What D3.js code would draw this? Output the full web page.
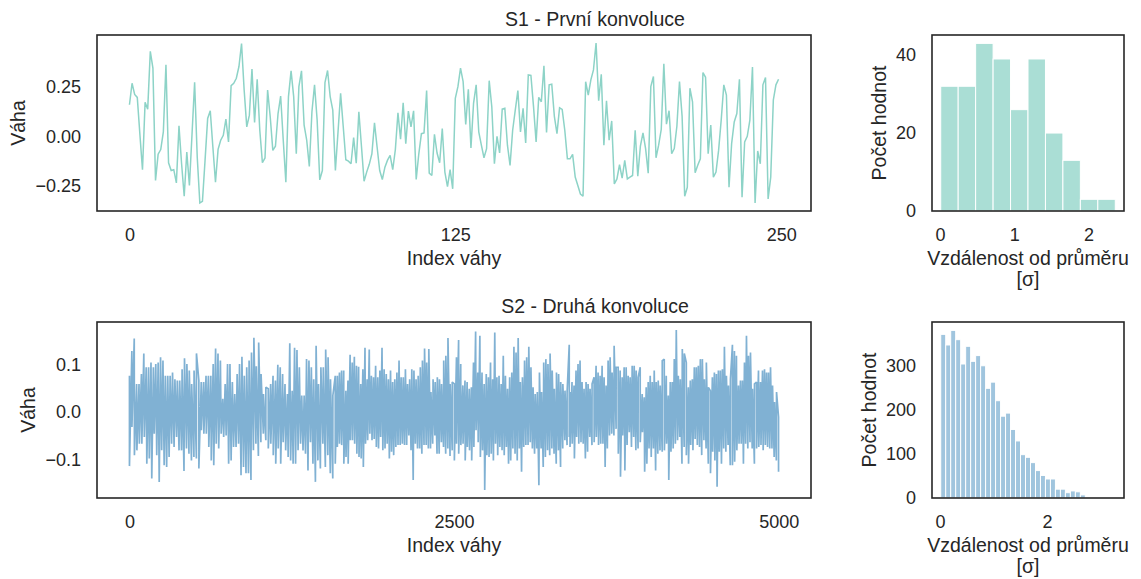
<!DOCTYPE html>
<html lang="cs">
<head>
<meta charset="UTF-8" />
<title>Konvoluce</title>
<script src="https://cdn.jsdelivr.net/npm/d3@7"></script>
<style>
  body { margin: 0; background: #fff; }
  svg { display: block; }
  text { font-family: "Liberation Sans", Arial, sans-serif; fill: #262626; }
</style>
</head>
<body>
<div id="chart"></div>
<script>
// S1 - weights of the first convolution (250 values)
var s1 = [0.158,0.266,0.21,0.195,0.01,-0.168,0.17,0.136,0.426,0.342,
  -0.222,-0.09,-0.067,0.022,0.359,-0.133,-0.172,-0.168,-0.234,0.052,
  -0.138,-0.301,-0.079,-0.247,0.01,0.271,-0.104,-0.335,-0.327,-0.121,
  0.089,0.128,-0.054,-0.231,-0.066,-0.02,0.005,0.086,-0.029,0.254,
  0.266,0.291,0.35,0.465,0.232,0.047,0.106,0.337,0.069,0.286,
  0.03,-0.133,-0.109,0.232,0.098,-0.071,-0.05,0.114,0.202,-0.02,
  -0.231,0.199,0.328,0.199,-0.088,0.249,0.328,0.056,-0.02,-0.152,
  0.123,0.258,0.081,-0.219,-0.172,0.269,0.33,0.199,0.131,-0.172,
  0.02,0.215,0.05,-0.118,-0.125,-0.138,-0.007,-0.135,0.123,-0.05,
  -0.226,-0.18,-0.141,-0.088,0.067,-0.054,-0.172,-0.217,-0.155,-0.12,
  -0.096,-0.168,-0.067,0.118,-0.015,0.168,-0.037,0.126,0.047,0.128,
  -0.217,-0.088,0.013,0.017,0.229,-0.185,-0.197,0.01,-0.084,-0.133,
  0.039,-0.18,-0.253,-0.168,-0.264,0.19,0.249,0.342,0.274,0.059,
  0.236,-0.059,0.165,0.258,0.022,-0.045,-0.108,-0.062,0.279,0.148,
  -0.138,0.0,-0.084,0.136,0.14,-0.045,-0.146,0.03,0.131,0.229,
  0.022,0.14,-0.034,0.308,0.305,0.15,-0.029,0.195,0.173,0.354,
  0.019,0.258,0.261,0.1,0.013,0.143,0.135,0.03,-0.113,-0.113,
  -0.091,-0.205,-0.247,-0.29,-0.301,0.274,0.207,0.283,0.333,0.468,
  0.178,0.311,-0.045,0.178,-0.02,0.077,-0.239,-0.214,-0.143,-0.21,
  -0.121,-0.214,-0.205,-0.197,0.03,-0.2,-0.05,0.017,-0.062,-0.185,
  0.249,0.3,-0.108,-0.045,0.034,0.364,0.061,0.128,-0.088,-0.062,
  0.05,0.274,0.101,-0.301,-0.256,0.241,0.173,-0.183,-0.146,-0.113,
  0.32,0.296,-0.088,0.056,-0.205,-0.18,-0.071,0.081,0.258,0.207,
  -0.256,-0.037,0.072,0.114,0.286,-0.306,-0.029,0.0,0.081,0.347,
  -0.335,-0.074,-0.138,0.258,0.295,-0.315,-0.205,0.182,0.258,0.286];

// S2 - 5000 weights, too dense to read one by one: local peaks (hi) and
// troughs (lo), in three stretches of the index axis
var s2Spans = [[0, 1585], [1601, 3387], [3393, 4999]];
var s2HiA = [0.076,0.128,0.154,0.059,0.059,0.080,0.123,0.094,0.094,0.104,0.094,0.101,0.104,0.115,0.108,
  0.076,0.076,0.076,0.083,0.069,0.066,0.066,0.090,0.113,0.101,0.087,0.059,0.087,0.123,0.066,0.063,
  0.063,0.076,0.076,0.076,0.101,0.133,0.123,0.108,0.028,0.059,0.101,0.101,0.063,0.038,0.080,0.101,
  0.116,0.076,0.094,0.108,0.125,0.156,0.096,0.146,0.080,0.038,0.052,0.049,0.059,0.076,0.066,0.099,
  0.094,0.080,0.059,0.038,0.144,0.045,0.135,0.130,0.094,0.035,0.035,0.111,0.108,0.094,0.069,0.139,
  0.059,0.094,0.094,0.131,0.115,0.069,0.035,0.076];
var s2LoA = [-0.113,-0.031,-0.090,-0.080,-0.066,-0.066,-0.052,-0.108,-0.097,-0.139,-0.045,-0.090,-0.146,
  -0.080,-0.111,-0.115,-0.094,-0.066,-0.073,-0.052,-0.080,-0.080,-0.123,-0.076,-0.087,-0.101,-0.094,
  -0.097,-0.118,-0.038,-0.045,-0.045,-0.073,-0.101,-0.111,-0.066,-0.076,-0.045,-0.052,-0.049,-0.108,
  -0.101,-0.073,-0.073,-0.066,-0.132,-0.115,-0.128,-0.128,-0.142,-0.080,-0.066,-0.092,-0.063,-0.045,
  -0.059,-0.076,-0.066,-0.090,-0.108,-0.076,-0.108,-0.063,-0.080,-0.094,-0.101,-0.108,-0.108,-0.080,
  -0.066,-0.080,-0.087,-0.122,-0.063,-0.108,-0.146,-0.101,-0.118,-0.066,-0.115,-0.090,-0.128,-0.139,-0.108];
var s2HiB = [0.076,0.083,0.087,0.087,0.045,0.066,0.120,0.104,0.116,0.097,0.095,0.059,0.090,0.135,0.069,
  0.131,0.076,0.073,0.097,0.073,0.087,0.135,0.090,0.080,0.069,0.087,0.063,0.069,0.083,0.108,0.073,
  0.073,0.090,0.059,0.069,0.090,0.087,0.069,0.076,0.094,0.108,0.133,0.104,0.132,0.042,0.069,0.063,
  0.073,0.069,0.059,0.108,0.118,0.155,0.059,0.063,0.059,0.115,0.151,0.101,0.056,0.066,0.063,0.049,
  0.052,0.104,0.169,0.083,0.160,0.083,0.059,0.080,0.073,0.104,0.069,0.167,0.073,0.076,0.059,0.118,
  0.076,0.049,0.073,0.083,0.137,0.125,0.155,0.063,0.073,0.108,0.115,0.137,0.094,0.052,0.038,0.042,
  0.083,0.042,0.104,0.111,0.101,0.123,0.087,0.049,0.083,0.080,0.063,0.059,0.045,0.042,0.141];
var s2LoB = [-0.073,-0.066,-0.069,-0.108,-0.094,-0.108,-0.059,-0.059,-0.066,-0.087,-0.094,-0.097,-0.115,
  -0.066,-0.059,-0.045,-0.059,-0.056,-0.073,-0.076,-0.052,-0.080,-0.076,-0.066,-0.097,-0.083,-0.090,
  -0.073,-0.069,-0.069,-0.066,-0.069,-0.069,-0.049,-0.080,-0.142,-0.066,-0.076,-0.076,-0.087,-0.069,
  -0.069,-0.076,-0.076,-0.066,-0.049,-0.087,-0.087,-0.063,-0.073,-0.087,-0.076,-0.092,-0.080,-0.101,
  -0.066,-0.087,-0.069,-0.066,-0.101,-0.073,-0.080,-0.101,-0.073,-0.038,-0.063,-0.094,-0.080,-0.163,
  -0.090,-0.094,-0.087,-0.101,-0.066,-0.090,-0.073,-0.080,-0.090,-0.073,-0.108,-0.101,-0.076,-0.087,
  -0.101,-0.076,-0.125,-0.073,-0.069,-0.069,-0.063,-0.076,-0.087,-0.076,-0.153,-0.076,-0.115,-0.094,
  -0.080,-0.090,-0.076,-0.087,-0.108,-0.080,-0.115,-0.076,-0.059,-0.069,-0.052];
var s2HiC = [0.042,0.063,0.056,0.087,0.101,0.108,0.063,0.049,0.063,0.059,0.049,0.059,0.073,0.097,0.083,
  0.076,0.097,0.073,0.056,0.108,0.115,0.083,0.139,0.094,0.094,0.087,0.073,0.094,0.094,0.076,0.073,
  0.097,0.097,0.087,0.073,0.094,0.038,0.031,0.052,0.063,0.076,0.063,0.087,0.063,0.066,0.056,0.108,
  0.111,0.076,0.035,0.063,0.063,0.111,0.172,0.076,0.069,0.132,0.123,0.104,0.052,0.066,0.069,0.094,
  0.094,0.097,0.111,0.111,0.069,0.104,0.052,0.045,0.073,0.083,0.080,0.087,0.087,0.090,0.137,0.076,
  0.056,0.069,0.141,0.128,0.118,0.056,0.066,0.066,0.104,0.160,0.118,0.125,0.049,0.059,0.063,0.087,
  0.063,0.087,0.090,0.083,0.083,0.094,0.056,0.021,0.042,-0.010];
var s2LoC = [-0.073,-0.066,-0.097,-0.052,-0.066,-0.063,-0.066,-0.097,-0.083,-0.052,-0.069,-0.063,-0.052,
  -0.069,-0.066,-0.066,-0.115,-0.076,-0.049,-0.045,-0.049,-0.035,-0.087,-0.135,-0.049,-0.122,-0.069,
  -0.042,-0.073,-0.052,-0.080,-0.076,-0.063,-0.042,-0.125,-0.108,-0.076,-0.094,-0.076,-0.122,-0.087,
  -0.080,-0.083,-0.080,-0.066,-0.142,-0.083,-0.076,-0.066,-0.059,-0.052,-0.108,-0.073,-0.090,-0.108,
  -0.069,-0.080,-0.056,-0.069,-0.073,-0.090,-0.059,-0.076,-0.108,-0.128,-0.083,-0.101,-0.156,-0.083,
  -0.108,-0.076,-0.083,-0.069,-0.111,-0.111,-0.104,-0.080,-0.066,-0.066,-0.108,-0.066,-0.076,-0.063,
  -0.076,-0.108,-0.076,-0.073,-0.069,-0.080,-0.069,-0.073,-0.076,-0.076,-0.094,-0.101,-0.125];

// histograms of |w - mean| / sigma
var h1Counts = [32, 32, 43, 39, 26, 39, 20, 13, 3, 3];
var h1Range = [0.01, 2.36];
var h2Counts = [370, 346, 379, 358, 303, 343, 309, 322, 299, 248, 262, 220, 185, 192, 155, 129, 98, 92,
  80, 62, 51, 43, 43, 20, 20, 12, 16, 14, 7, 2, 1, 1, 1, 0, 1];
var h2Range = [0.013, 3.28];

var s1Ticks = [0, 125, 250];
var s2Ticks = [0, 2500, 5000];
var h1XTicks = [0, 1, 2];
var h1YTicks = [0, 20, 40];
var h2XTicks = [0, 2];
var h2YTicks = [0, 100, 200, 300];

var width = 1141;
var height = 579;
var tickFont = 18;
var labelFont = 19.5;
var ink = '#262626';

var svg = d3.select('#chart').append('svg')
  .attr('width', width).attr('height', height);

// margin like matplotlib's default 5 %
function pad(lo, hi) {
  var m = (hi - lo) * 0.05;
  return [lo - m, hi + m];
}

function frame(box) {
  svg.append('rect')
    .attr('x', box.x0).attr('y', box.y0)
    .attr('width', box.x1 - box.x0).attr('height', box.y1 - box.y0)
    .attr('fill', 'none').attr('stroke', ink).attr('stroke-width', 1.6);
}

function axes(box, x, y, xTicks, yTicks, yFmt, xLabel, yLabel, xLabel2) {
  var gx = svg.append('g').attr('transform', 'translate(0,' + box.y1 + ')')
    .call(d3.axisBottom(x).tickValues(xTicks).tickSize(0).tickPadding(17).tickFormat(d3.format('d')));
  var gy = svg.append('g').attr('transform', 'translate(' + box.x0 + ',0)')
    .call(d3.axisLeft(y).tickValues(yTicks).tickSize(0).tickPadding(16).tickFormat(d3.format(yFmt)));
  [gx, gy].forEach(function (g) {
    g.select('.domain').remove();
    g.selectAll('text').attr('font-size', tickFont).attr('fill', ink)
      .style('font-family', '"Liberation Sans", Arial, sans-serif');
  });
  // y label sits left of the widest tick label
  var wMax = 0;
  gy.selectAll('text').each(function () { wMax = Math.max(wMax, this.getComputedTextLength()); });
  var lx = box.x0 - 16 - wMax - 10;
  svg.append('text')
    .attr('transform', 'translate(' + lx + ',' + (box.y0 + box.y1) / 2 + ') rotate(-90)')
    .attr('text-anchor', 'middle').attr('font-size', labelFont)
    .text(yLabel);
  var cx = (box.x0 + box.x1) / 2;
  svg.append('text').attr('x', cx).attr('y', box.y1 + 54)
    .attr('text-anchor', 'middle').attr('font-size', labelFont).text(xLabel);
  if (xLabel2) {
    svg.append('text').attr('x', cx).attr('y', box.y1 + 75)
      .attr('text-anchor', 'middle').attr('font-size', labelFont).text(xLabel2);
  }
}

function linePanel(box, pts, n, ticks, yTicks, yFmt, color, lw, title) {
  var x = d3.scaleLinear().domain(pad(0, n - 1)).range([box.x0, box.x1]);
  var ext = d3.extent(pts, function (d) { return d.v; });
  var y = d3.scaleLinear().domain(pad(ext[0], ext[1])).range([box.y1, box.y0]);
  var line = d3.line().x(function (d) { return x(d.i); }).y(function (d) { return y(d.v); });
  svg.append('path').datum(pts)
    .attr('d', line).attr('fill', 'none')
    .attr('stroke', color).attr('stroke-width', lw).attr('stroke-linejoin', 'miter')
    .attr('stroke-miterlimit', 2);
  frame(box);
  axes(box, x, y, ticks, yTicks, yFmt, 'Index váhy', 'Váha');
  svg.append('text').attr('x', 595).attr('y', box.y0 - 9)
    .attr('text-anchor', 'middle').attr('font-size', labelFont).text(title);
}

function histPanel(box, counts, range, xTicks, yTicks, color) {
  var bw = (range[1] - range[0]) / counts.length;
  var bins = counts.map(function (c, k) {
    return { x0: range[0] + k * bw, x1: range[0] + (k + 1) * bw, c: c };
  });
  var x = d3.scaleLinear().domain(pad(range[0], range[1])).range([box.x0, box.x1]);
  var y = d3.scaleLinear().domain([0, d3.max(counts) * 1.05]).range([box.y1, box.y0]);
  svg.append('g').selectAll('rect').data(bins).enter().append('rect')
    .attr('x', function (d) { return x(d.x0); })
    .attr('width', function (d) { return x(d.x1) - x(d.x0); })
    .attr('y', function (d) { return y(d.c); })
    .attr('height', function (d) { return y(0) - y(d.c); })
    .attr('fill', color).attr('fill-opacity', 0.75)
    .attr('stroke', '#fff').attr('stroke-width', 1);
  frame(box);
  axes(box, x, y, xTicks, yTicks, 'd', 'Vzdálenost od průměru', 'Počet hodnot', '[σ]');
}

// S1 points
var s1Pts = s1.map(function (v, i) { return { i: i, v: v }; });

// S2 points: spread peaks and troughs over each stretch, then merge by index
function spread(vals, span) {
  return vals.map(function (v, k) {
    return { i: span[0] + k * (span[1] - span[0]) / (vals.length - 1), v: v };
  });
}
var s2Pts = [];
[[s2HiA, s2LoA], [s2HiB, s2LoB], [s2HiC, s2LoC]].forEach(function (pair, s) {
  s2Pts = s2Pts.concat(spread(pair[0], s2Spans[s]), spread(pair[1], s2Spans[s]));
});
s2Pts.sort(function (a, b) { return a.i - b.i; });

linePanel({ x0: 97, x1: 811, y0: 35, y1: 211 }, s1Pts, 250, s1Ticks, [-0.25, 0, 0.25], '.2f',
  '#8dd3c7', 1.5, 'S1 - První konvoluce');
linePanel({ x0: 97, x1: 811, y0: 322, y1: 498 }, s2Pts, 5000, s2Ticks, [-0.1, 0, 0.1], '.1f',
  '#80b1d3', 1.7, 'S2 - Druhá konvoluce');

histPanel({ x0: 932, x1: 1124, y0: 35, y1: 211 }, h1Counts, h1Range, h1XTicks, h1YTicks, '#8dd3c7');
histPanel({ x0: 932, x1: 1124, y0: 322, y1: 498 }, h2Counts, h2Range, h2XTicks, h2YTicks, '#80b1d3');
</script>
</body>
</html>
